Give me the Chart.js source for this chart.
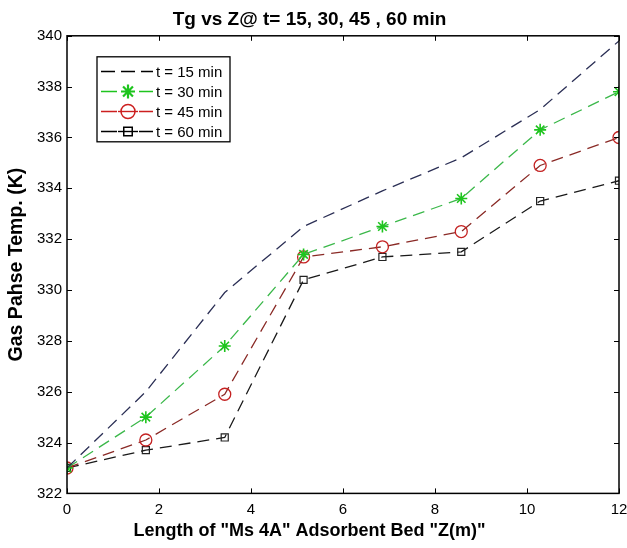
<!DOCTYPE html>
<html>
<head>
<meta charset="utf-8">
<script src="https://cdn.jsdelivr.net/npm/chart.js"></script>
<style>
  html, body { margin: 0; padding: 0; background: #fff; }
  #wrap { width: 627px; height: 548px; }
</style>
</head>
<body>
<div id="wrap"><canvas id="chart" width="627" height="548"></canvas></div>
<script>
// bed positions (m)
const zPos = [0, 1.714, 3.429, 5.143, 6.857, 8.571, 10.286, 12];
// gas phase temperature (K)
const t15 = [323, 326.0, 329.9, 332.5, 333.9, 335.2, 337.1, 339.8];
const t30 = [323, 325.0, 327.8, 331.4, 332.5, 333.6, 336.3, 337.8];
const t45 = [323, 324.1, 325.9, 331.3, 331.7, 332.3, 334.9, 336.0];
const t60 = [323, 323.7, 324.2, 330.4, 331.3, 331.5, 333.5, 334.3];
const seriesNames = ["t = 15 min", "t = 30 min", "t = 45 min", "t = 60 min"];

const pts = arr => arr.map((v, i) => ({ x: zPos[i], y: v }));
const font = "'Liberation Sans', Arial, sans-serif";

// inward ticks on all four sides + frame
const frameTicks = {
    id: "frameTicks",
    afterDatasetsDraw(chart) {
        const { ctx, chartArea: a, scales } = chart;
        ctx.save();
        ctx.strokeStyle = "#000";
        ctx.lineWidth = 1;
        const len = 5;
        scales.x.ticks.forEach(t => {
            const px = Math.round(scales.x.getPixelForValue(t.value)) + 0.5;
            ctx.beginPath();
            ctx.moveTo(px, a.bottom); ctx.lineTo(px, a.bottom - len);
            ctx.moveTo(px, a.top); ctx.lineTo(px, a.top + len);
            ctx.stroke();
        });
        scales.y.ticks.forEach(t => {
            const py = Math.round(scales.y.getPixelForValue(t.value)) + 0.5;
            ctx.beginPath();
            ctx.moveTo(a.left, py); ctx.lineTo(a.left + len, py);
            ctx.moveTo(a.right, py); ctx.lineTo(a.right - len, py);
            ctx.stroke();
        });
        ctx.lineWidth = 1.5;
        ctx.strokeRect(a.left, a.top, a.right - a.left, a.bottom - a.top);
        ctx.restore();
    }
};

// boxed legend inside plot, top-left
const boxLegend = {
    id: "boxLegend",
    afterDraw(chart) {
        const { ctx, chartArea: a } = chart;
        const x0 = a.left + 30, y0 = a.top + 21, w = 133, h = 85;
        ctx.save();
        ctx.fillStyle = "#fff";
        ctx.fillRect(x0, y0, w, h);
        ctx.strokeStyle = "#000";
        ctx.lineWidth = 1.3;
        ctx.strokeRect(x0, y0, w, h);
        ctx.font = "15px " + font;
        ctx.textBaseline = "middle";
        chart.data.datasets.forEach((ds, i) => {
            const cy = Math.round(y0 + 14.5 + i * 20) + 0.5;
            const lx0 = x0 + 4, lx1 = x0 + 56, mx = x0 + 31;
            ctx.strokeStyle = ds.legendLine;
            ctx.lineWidth = 1.4;
            ctx.beginPath();
            if (ds.pointRadius > 0) {
                ctx.moveTo(lx0, cy); ctx.lineTo(mx - 11, cy);
                ctx.moveTo(mx + 11, cy); ctx.lineTo(lx1, cy);
            } else {
                ctx.setLineDash([14, 6]);
                ctx.moveTo(lx0, cy); ctx.lineTo(lx1, cy);
            }
            ctx.stroke();
            ctx.setLineDash([]);
            if (ds.pointRadius > 0) {
                if (ds.pointStyle !== "star") {
                    ctx.beginPath();
                    ctx.moveTo(mx - 10, cy); ctx.lineTo(mx + 10, cy);
                    ctx.stroke();
                }
                ctx.fillStyle = "rgba(0,0,0,0)";
                ctx.strokeStyle = ds.legendLine;
                ctx.lineWidth = ds.pointStyle === "star" ? 2.2 : 1.5;
                Chart.helpers.drawPoint(ctx, {
                    pointStyle: ds.pointStyle,
                    radius: ds.pointRadius + 1,
                    borderWidth: ctx.lineWidth
                }, mx, cy);
            }
            ctx.fillStyle = "#000";
            ctx.fillText(seriesNames[i], lx1 + 3, cy + 1);
        });
        ctx.restore();
    }
};

const dash = [12, 7];

new Chart(document.getElementById("chart"), {
    type: "line",
    data: {
        datasets: [
            {
                label: seriesNames[0], data: pts(t15),
                borderColor: "#2b2f55", legendLine: "#000",
                borderWidth: 1.3, borderDash: dash,
                pointRadius: 0, pointStyle: "circle", pointBorderWidth: 1,
                pointBorderColor: "#000"
            },
            {
                label: seriesNames[1], data: pts(t30),
                borderColor: "#3bb84a", legendLine: "#1ec41e",
                borderWidth: 1.3, borderDash: dash,
                pointStyle: "star", pointRadius: 6, pointBorderWidth: 1.6,
                pointBorderColor: "#1ec41e", pointBackgroundColor: "transparent"
            },
            {
                label: seriesNames[2], data: pts(t45),
                borderColor: "#8a2a26", legendLine: "#cc1f1f",
                borderWidth: 1.3, borderDash: dash,
                pointStyle: "circle", pointRadius: 6, pointBorderWidth: 1.3,
                pointBorderColor: "#c42222", pointBackgroundColor: "transparent"
            },
            {
                label: seriesNames[3], data: pts(t60),
                borderColor: "#1a1a1a", legendLine: "#000",
                borderWidth: 1.3, borderDash: dash,
                pointStyle: "rect", pointRadius: 5, pointBorderWidth: 1.2,
                pointBorderColor: "#222", pointBackgroundColor: "transparent"
            }
        ]
    },
    options: {
        responsive: false,
        animation: false,
        layout: { padding: { top: 1, right: 8, bottom: 0, left: 0 } },
        plugins: {
            legend: { display: false },
            tooltip: { enabled: false },
            title: {
                display: true,
                text: "Tg vs Z@ t= 15, 30, 45 , 60 min",
                color: "#000",
                font: { family: font, size: 19, weight: "bold" },
                padding: { top: 7, bottom: 5 }
            },
            subtitle: {
                display: true,
                position: "bottom",
                text: 'Length of "Ms 4A" Adsorbent Bed "Z(m)"',
                color: "#000",
                font: { family: font, size: 18, weight: "bold" },
                padding: { top: 0, bottom: 6 }
            }
        },
        scales: {
            x: {
                type: "linear", min: 0, max: 12,
                grid: { display: false, drawTicks: false },
                border: { display: false },
                ticks: { stepSize: 2, color: "#000", padding: 7,
                         font: { family: font, size: 15 } },
                afterFit(s) { s.height = 27; s.paddingLeft = 0; s.paddingRight = 0; }
            },
            y: {
                min: 322, max: 340,
                grid: { display: false, drawTicks: false },
                border: { display: false },
                ticks: { stepSize: 2, color: "#000", padding: 5,
                         font: { family: font, size: 15 } },
                title: {
                    display: true,
                    text: "Gas Pahse Temp. (K)",
                    color: "#000",
                    font: { family: font, size: 19.5, weight: "bold" },
                    padding: { top: 5, bottom: 4 }
                },
                afterFit(s) { s.width = 67; s.paddingTop = 0; s.paddingBottom = 0; }
            }
        }
    },
    plugins: [frameTicks, boxLegend]
});
</script>
</body>
</html>
